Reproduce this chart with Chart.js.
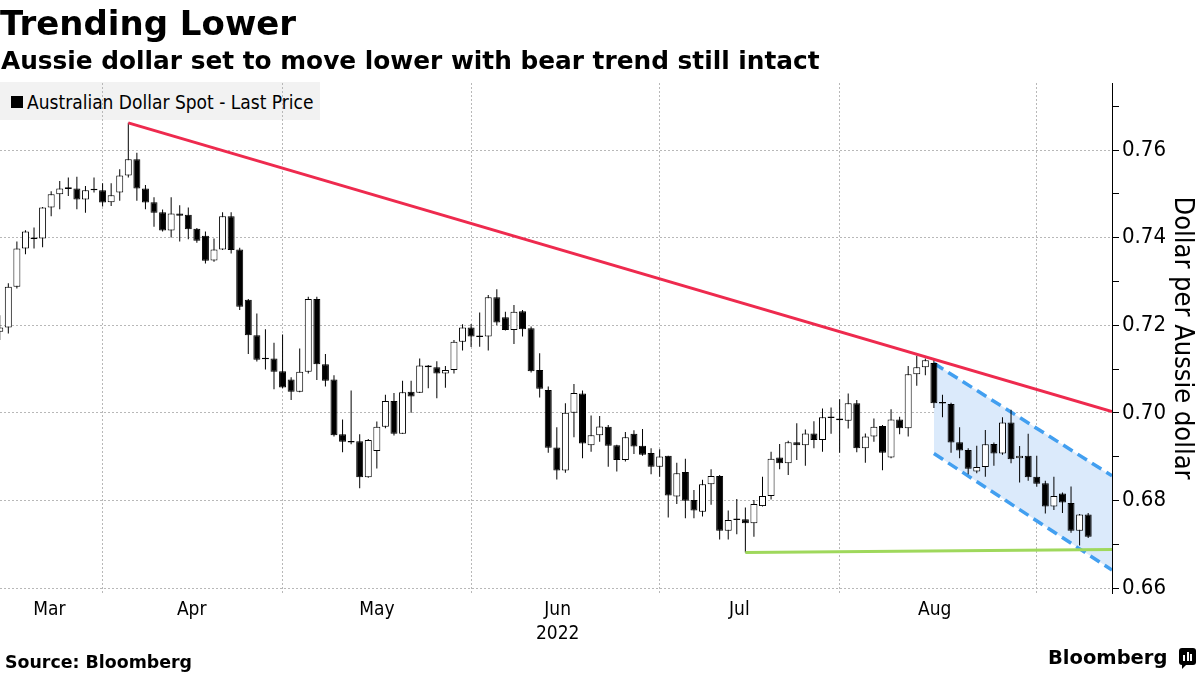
<!DOCTYPE html>
<html>
<head>
<meta charset="utf-8">
<script src="https://cdn.jsdelivr.net/npm/chart.js@4.4.0/dist/chart.umd.min.js"></script>
<style>
  html, body { margin: 0; padding: 0; background: #fff; }
  #wrap { position: relative; width: 1200px; height: 675px; overflow: hidden; color: #000;
          font-family: 'DejaVu Sans Condensed', 'Liberation Sans', sans-serif; }
  #title { position: absolute; left: 0; top: 6px; font: bold 34px/34px 'DejaVu Sans', sans-serif; white-space: nowrap; }
  #subtitle { position: absolute; left: 1px; top: 48px; font: bold 24.8px/25px 'DejaVu Sans', sans-serif; white-space: nowrap; }
  #legend { position: absolute; left: 0; top: 82px; width: 320px; height: 38px; background: #f2f2f2; }
  #legend .sw { position: absolute; left: 11px; top: 14px; width: 12px; height: 12px; background: #000; }
  #legend .txt { position: absolute; left: 27px; top: 9px; font-size: 19px; line-height: 22px; white-space: nowrap; }
  canvas { position: absolute; left: 0; top: 0; }
  #source { position: absolute; left: 5px; top: 654px; font: bold 17.4px/17.4px 'DejaVu Sans', sans-serif; white-space: nowrap; }
  #brand { position: absolute; left: 1048px; top: 648px; font: bold 19.5px/19.5px 'DejaVu Sans', sans-serif; white-space: nowrap; }
  #logo { position: absolute; left: 1179px; top: 648px; width: 17px; height: 17px; background: #000; border-radius: 3px; }
  #logo:after { content: ''; position: absolute; left: 3px; bottom: -4px; border-left: 4px solid #000; border-bottom: 4px solid transparent; }
  #logo i { position: absolute; bottom: 4px; width: 2px; background: #fff; }
</style>
</head>
<body>
<div id="wrap">
  <div id="legend"><div class="sw"></div><div class="txt">Australian Dollar Spot - Last Price</div></div>
  <canvas id="myChart" width="1200" height="675"></canvas>
  <div id="title">Trending Lower</div>
  <div id="subtitle">Aussie dollar set to move lower with bear trend still intact</div>
  <div id="source">Source: Bloomberg</div>
  <div id="brand">Bloomberg</div>
  <div id="logo"><i style="left:4px;height:6px"></i><i style="left:7.5px;height:9px"></i><i style="left:11px;height:7px"></i></div>
</div>
<script>
// axis labels
const monthLabels = ['Mar', 'Apr', 'May', 'Jun', 'Jul', 'Aug'];
const monthMid = [5.8, 22.4, 44.0, 65.1, 86.3, 109.1];   // where the month names sit (trading-day index)
const monthStart = [12, 33, 55, 77, 98, 121];           // first trading day of each month -> grid lines
const yearLabel = '2022';
const yearUnder = 'Jun';
const yTicks = [0.66, 0.67, 0.68, 0.69, 0.70, 0.71, 0.72, 0.73, 0.74, 0.75, 0.76, 0.77];

// daily candles, mid-March to early September 2022
const openPx = [
  0.7185, 0.7195, 0.7288, 0.7375, 0.7397, 0.7398, 0.7469, 0.7499, 0.7515, 0.7512,
  0.7487, 0.7508, 0.7508, 0.7481, 0.7503, 0.7542, 0.7579, 0.7512, 0.7481, 0.7458,
  0.7416, 0.7455, 0.7452, 0.7420, 0.7404, 0.7348, 0.7373, 0.7449, 0.7373, 0.7258,
  0.7177, 0.7124, 0.7124, 0.7095, 0.7076, 0.7048, 0.7094, 0.7260, 0.7111, 0.7076,
  0.6951, 0.6934, 0.6935, 0.6853, 0.6913, 0.6968, 0.7027, 0.6952, 0.7048, 0.7046,
  0.7108, 0.7104, 0.7090, 0.7098, 0.7162, 0.7195, 0.7174, 0.7174, 0.7264, 0.7218,
  0.7189, 0.7232, 0.7193, 0.7098, 0.7052, 0.6921, 0.6868, 0.7000, 0.7044, 0.6926,
  0.6949, 0.6968, 0.6926, 0.6892, 0.6952, 0.6925, 0.6908, 0.6877, 0.6902, 0.6809,
  0.6865, 0.6801, 0.6774, 0.6837, 0.6856, 0.6731, 0.6756, 0.6757, 0.6748, 0.6787,
  0.6810, 0.6898, 0.6885, 0.6933, 0.6926, 0.6953, 0.6938, 0.6990, 0.6987, 0.6982,
  0.7022, 0.6919, 0.6946, 0.6970, 0.6898, 0.6985, 0.6965, 0.7088, 0.7104, 0.7114,
  0.7023, 0.7020, 0.6933, 0.6915, 0.6866, 0.6876, 0.6929, 0.6907, 0.6978, 0.6896,
  0.6902, 0.6854, 0.6839, 0.6786, 0.6816, 0.6794, 0.6731, 0.6768
];
const highPx = [
  0.7223, 0.7296, 0.7391, 0.7417, 0.7423, 0.7470, 0.7506, 0.7529, 0.7537, 0.7539,
  0.7518, 0.7537, 0.7524, 0.7524, 0.7556, 0.7662, 0.7594, 0.7520, 0.7492, 0.7464,
  0.7492, 0.7474, 0.7469, 0.7422, 0.7414, 0.7398, 0.7458, 0.7458, 0.7377, 0.7260,
  0.7227, 0.7191, 0.7160, 0.7179, 0.7081, 0.7147, 0.7265, 0.7265, 0.7134, 0.7086,
  0.6985, 0.7051, 0.6951, 0.6940, 0.6980, 0.7041, 0.7045, 0.7073, 0.7073, 0.7124,
  0.7109, 0.7118, 0.7107, 0.7166, 0.7202, 0.7203, 0.7229, 0.7269, 0.7282, 0.7231,
  0.7246, 0.7235, 0.7197, 0.7136, 0.7060, 0.6967, 0.7022, 0.7066, 0.7051, 0.6994,
  0.6993, 0.6972, 0.6927, 0.6956, 0.6960, 0.6963, 0.6919, 0.6917, 0.6902, 0.6886,
  0.6895, 0.6824, 0.6847, 0.6871, 0.6858, 0.6777, 0.6803, 0.6784, 0.6801, 0.6854,
  0.6911, 0.6929, 0.6936, 0.6976, 0.6962, 0.6981, 0.7010, 0.7012, 0.7031, 0.7044,
  0.7029, 0.6953, 0.6987, 0.6972, 0.7008, 0.6991, 0.7107, 0.7130, 0.7124, 0.7121,
  0.7041, 0.7023, 0.6967, 0.6919, 0.6925, 0.6961, 0.6932, 0.6990, 0.7007, 0.6924,
  0.6952, 0.6902, 0.6845, 0.6854, 0.6818, 0.6832, 0.6769, 0.6771
];
const lowPx = [
  0.7166, 0.7181, 0.7284, 0.7362, 0.7375, 0.7378, 0.7449, 0.7465, 0.7495, 0.7465,
  0.7457, 0.7503, 0.7471, 0.7472, 0.7484, 0.7537, 0.7484, 0.7465, 0.7425, 0.7414,
  0.7400, 0.7391, 0.7396, 0.7388, 0.7341, 0.7345, 0.7372, 0.7364, 0.7235, 0.7134,
  0.7117, 0.7099, 0.7054, 0.7056, 0.7029, 0.7047, 0.7090, 0.7075, 0.7060, 0.6946,
  0.6910, 0.6928, 0.6828, 0.6852, 0.6873, 0.6965, 0.6948, 0.6952, 0.7000, 0.7045,
  0.7056, 0.7033, 0.7057, 0.7090, 0.7142, 0.7150, 0.7151, 0.7142, 0.7200, 0.7188,
  0.7157, 0.7174, 0.7092, 0.7035, 0.6909, 0.6848, 0.6863, 0.6944, 0.6896, 0.6911,
  0.6934, 0.6877, 0.6866, 0.6889, 0.6906, 0.6902, 0.6860, 0.6854, 0.6761, 0.6792,
  0.6759, 0.6759, 0.6763, 0.6790, 0.6711, 0.6711, 0.6723, 0.6681, 0.6717, 0.6786,
  0.6802, 0.6871, 0.6858, 0.6892, 0.6879, 0.6919, 0.6911, 0.6952, 0.6909, 0.6964,
  0.6910, 0.6886, 0.6934, 0.6869, 0.6896, 0.6951, 0.6946, 0.7062, 0.7086, 0.7011,
  0.6990, 0.6909, 0.6896, 0.6860, 0.6862, 0.6854, 0.6879, 0.6904, 0.6885, 0.6841,
  0.6845, 0.6831, 0.6770, 0.6778, 0.6771, 0.6726, 0.6697, 0.6714
];
const closePx = [
  0.7195, 0.7288, 0.7375, 0.7414, 0.7399, 0.7469, 0.7499, 0.7512, 0.7511, 0.7487,
  0.7508, 0.7509, 0.7480, 0.7497, 0.7542, 0.7579, 0.7512, 0.7480, 0.7457, 0.7416,
  0.7455, 0.7450, 0.7419, 0.7393, 0.7347, 0.7373, 0.7449, 0.7372, 0.7242, 0.7177,
  0.7121, 0.7122, 0.7094, 0.7058, 0.7048, 0.7094, 0.7260, 0.7111, 0.7073, 0.6949,
  0.6934, 0.6932, 0.6853, 0.6938, 0.6968, 0.7027, 0.6952, 0.7047, 0.7037, 0.7108,
  0.7104, 0.7090, 0.7098, 0.7162, 0.7195, 0.7174, 0.7173, 0.7264, 0.7206, 0.7189,
  0.7231, 0.7191, 0.7095, 0.7055, 0.6920, 0.6868, 0.7000, 0.7045, 0.6930, 0.6949,
  0.6969, 0.6925, 0.6892, 0.6944, 0.6923, 0.6904, 0.6877, 0.6900, 0.6811, 0.6862,
  0.6799, 0.6777, 0.6837, 0.6856, 0.6731, 0.6755, 0.6755, 0.6748, 0.6792, 0.6810,
  0.6895, 0.6885, 0.6933, 0.6926, 0.6953, 0.6938, 0.6990, 0.6988, 0.6983, 0.7022,
  0.6919, 0.6946, 0.6968, 0.6909, 0.6985, 0.6965, 0.7088, 0.7104, 0.7120, 0.7022,
  0.7021, 0.6932, 0.6914, 0.6872, 0.6876, 0.6928, 0.6907, 0.6978, 0.6894, 0.6902,
  0.6853, 0.6838, 0.6786, 0.6810, 0.6795, 0.6731, 0.6768, 0.6717
];

// drawn trend lines (index, price)
const X_MIN = 0.03, X_MAX = 129.78;
const redX = [15, X_MAX],    redY = [0.7662, 0.7003];
const greenX = [87, X_MAX],  greenY = [0.6681, 0.6688];
const chanX = [109, X_MAX];
const chanUpper = [0.7113, 0.6856];
const chanLower = [0.6907, 0.6641];

const FONT = "'DejaVu Sans Condensed', 'Liberation Sans', sans-serif";
Chart.defaults.font.family = FONT;
Chart.defaults.color = '#000';

const days = openPx.map((_, i) => i);
const pts = (xs, ys) => xs.map((x, i) => ({ x: x, y: ys[i] }));
const isMajor = v => Math.round(v * 100) % 2 === 0;

new Chart(document.getElementById('myChart'), {
  type: 'bar',
  data: {
    datasets: [
      {   // candle bodies
        data: days.map(i => ({ x: i, y: [openPx[i], closePx[i]] })),
        backgroundColor: days.map(i => closePx[i] >= openPx[i] ? '#ffffff' : '#000000'),
        borderColor: '#000',
        borderWidth: 1,
        borderSkipped: false,
        barThickness: 7,
        minBarLength: 1.5,
        inflateAmount: 0,
        grouped: false,
        clip: 0,
        order: 1
      },
      {   // wicks
        data: days.map(i => ({ x: i, y: [lowPx[i], highPx[i]] })),
        backgroundColor: '#000',
        borderWidth: 0,
        barThickness: 1,
        inflateAmount: 0,
        grouped: false,
        clip: 0,
        order: 2
      },
      {
        type: 'line', data: pts(redX, redY),
        borderColor: '#ee2a4e', borderWidth: 3, pointRadius: 0, fill: false, order: 0
      },
      {
        type: 'line', data: pts(greenX, greenY),
        borderColor: '#9fd85c', borderWidth: 3, pointRadius: 0, fill: false, order: 0
      },
      {
        type: 'line', data: pts(chanX, chanUpper),
        borderColor: '#429ff0', borderWidth: 3.5, borderDash: [11, 6], pointRadius: 0,
        fill: '+1', backgroundColor: '#dbeafb', order: 3
      },
      {
        type: 'line', data: pts(chanX, chanLower),
        borderColor: '#429ff0', borderWidth: 3.5, borderDash: [11, 6], pointRadius: 0,
        fill: false, order: 3
      }
    ]
  },
  options: {
    responsive: false,
    animation: false,
    layout: { autoPadding: false, padding: { top: 83, left: 0, right: 0, bottom: 0 } },
    plugins: {
      legend: { display: false },
      tooltip: { enabled: false },
      filler: { drawTime: 'beforeDatasetsDraw' }   // channel fill under every line and candle
    },
    scales: {
      x: {
        type: 'linear', position: 'bottom', min: X_MIN, max: X_MAX, offset: false,
        grid: { display: false, drawTicks: false, offset: false },
        border: { display: false },
        afterBuildTicks: s => { s.ticks = monthMid.map(v => ({ value: v })); },
        afterFit: s => { s.height = 82; },
        ticks: {
          autoSkip: false, maxRotation: 0, padding: 5, color: '#000',
          font: { size: 19, lineHeight: 1.25 },
          callback: (v, i) => monthLabels[i] === yearUnder ? [monthLabels[i], yearLabel] : monthLabels[i]
        }
      },
      xg: {
        type: 'linear', position: 'top', min: X_MIN, max: X_MAX, offset: false,
        ticks: { display: false },
        grid: { color: '#b8b8b8', lineWidth: 1, drawTicks: false, offset: false },
        border: { display: false, dash: [2, 2] },
        afterBuildTicks: s => { s.ticks = monthStart.map(v => ({ value: v })); },
        afterFit: s => { s.height = 0; }
      },
      y: {
        type: 'linear', position: 'right', min: 0.65886, max: 0.7753, beginAtZero: false,
        afterBuildTicks: s => { s.ticks = yTicks.map(v => ({ value: v })); },
        afterFit: s => { s.width = 88; },
        grid: {
          color: c => (c.tick && isMajor(c.tick.value)) ? '#b8b8b8' : 'rgba(0,0,0,0)',
          tickColor: '#000', tickLength: 7, lineWidth: 1
        },
        border: { display: true, color: '#000', width: 1, dash: [2, 2] },
        ticks: {
          padding: 3, color: '#000', font: { size: 22 },
          callback: v => isMajor(v) ? v.toFixed(2) : ''
        },
        title: {
          display: true, text: 'Dollar per Aussie dollar', color: '#000',
          font: { size: 27 }, padding: { top: 2, bottom: 0 }
        }
      }
    }
  }
});
</script>
</body>
</html>
